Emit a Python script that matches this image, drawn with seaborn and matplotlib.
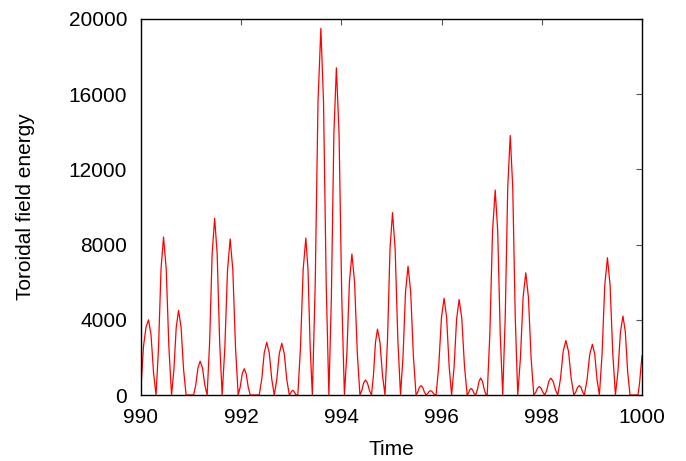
import matplotlib
matplotlib.use("Agg")
import matplotlib.pyplot as plt
import seaborn as sns
import pandas as pd

# Samples (troughs, shoulders and peaks)
time = [
    990.000, 990.050, 990.100, 990.150, 990.200, 990.250, 990.300,
    990.350, 990.400, 990.450, 990.503, 990.557, 990.610,
    990.657, 990.703, 990.750, 990.800, 990.850, 990.900,
    991.050, 991.093, 991.137, 991.180, 991.227, 991.273, 991.320,
    991.370, 991.420, 991.470, 991.520, 991.570, 991.620,
    991.673, 991.727, 991.780, 991.833, 991.887, 991.940,
    991.980, 992.020, 992.060, 992.100, 992.140, 992.180,
    992.360, 992.410, 992.460, 992.510, 992.560, 992.610, 992.660,
    992.710, 992.760, 992.810, 992.860, 992.910, 992.960,
    992.983, 993.007, 993.030, 993.053, 993.077, 993.100,
    993.130, 993.183, 993.237, 993.290, 993.333, 993.377, 993.420,
    993.477, 993.533, 993.590, 993.643, 993.697, 993.750,
    993.800, 993.850, 993.900, 993.953, 994.007, 994.060,
    994.110, 994.160, 994.210, 994.263, 994.317, 994.370,
    994.407, 994.443, 994.480, 994.520, 994.560, 994.600,
    994.640, 994.680, 994.720, 994.770, 994.820, 994.870,
    994.920, 994.970, 995.020, 995.073, 995.127, 995.180,
    995.230, 995.280, 995.330, 995.383, 995.437, 995.490,
    995.523, 995.557, 995.590, 995.623, 995.657, 995.690,
    995.720, 995.750, 995.780, 995.810, 995.840, 995.870,
    995.890, 995.943, 995.997, 996.050, 996.100, 996.150, 996.200,
    996.250, 996.300, 996.350, 996.403, 996.457, 996.510,
    996.537, 996.563, 996.590, 996.617, 996.643, 996.680,
    996.713, 996.747, 996.780, 996.817, 996.853, 996.890,
    996.910, 996.963, 997.017, 997.070, 997.120, 997.170, 997.220,
    997.270, 997.320, 997.370, 997.420, 997.470, 997.520,
    997.573, 997.627, 997.680, 997.733, 997.787, 997.840,
    997.877, 997.913, 997.950, 997.987, 998.023, 998.060,
    998.100, 998.140, 998.180, 998.227, 998.273, 998.320,
    998.373, 998.427, 998.480, 998.533, 998.587, 998.640,
    998.677, 998.713, 998.750, 998.783, 998.817, 998.850,
    998.903, 998.957, 999.010, 999.057, 999.103, 999.150,
    999.203, 999.257, 999.310, 999.363, 999.417, 999.470,
    999.520, 999.570, 999.620, 999.667, 999.713, 999.760,
    999.920, 999.950, 1000.000,
]
energy = [
    440, 2600, 3600, 4000, 3200, 1200, 0,
    2520, 6720, 8400, 6720, 2520, 0,
    1350, 3600, 4500, 3600, 1350, 0,
    0, 540, 1440, 1800, 1440, 540, 0,
    2820, 7520, 9400, 7520, 2820, 0,
    2490, 6640, 8300, 6640, 2490, 0,
    420, 1120, 1400, 1120, 420, 0,
    0, 840, 2240, 2800, 2240, 840, 0,
    825, 2200, 2750, 2200, 825, 0,
    75, 200, 250, 200, 75, 0,
    0, 2505, 6680, 8350, 6680, 2505, 0,
    5850, 15600, 19500, 15600, 5850, 0,
    5220, 13920, 17400, 13920, 5220, 0,
    2250, 6000, 7500, 6000, 2250, 0,
    240, 640, 800, 640, 240, 0,
    1050, 2800, 3500, 2800, 1050, 0,
    2910, 7760, 9700, 7760, 2910, 0,
    2055, 5480, 6850, 5480, 2055, 0,
    150, 400, 500, 400, 150, 0,
    70, 185, 230, 185, 70, 0,
    0, 1545, 4120, 5150, 4120, 1545, 0,
    1524, 4064, 5080, 4064, 1524, 0,
    105, 280, 350, 280, 105, 0,
    270, 720, 900, 720, 270, 0,
    0, 3270, 8720, 10900, 8720, 3270, 0,
    4140, 11040, 13800, 11040, 4140, 0,
    1950, 5200, 6500, 5200, 1950, 0,
    135, 360, 450, 360, 135, 0,
    270, 720, 900, 720, 270, 0,
    870, 2320, 2900, 2320, 870, 0,
    150, 400, 500, 400, 150, 0,
    810, 2160, 2700, 2160, 810, 0,
    2190, 5840, 7300, 5840, 2190, 0,
    1260, 3360, 4200, 3360, 1260, 0,
    0, 600, 2100,
]

xticks = [990, 992, 994, 996, 998, 1000]
yticks = [0, 4000, 8000, 12000, 16000, 20000]

sns.set_theme(style="white")
plt.rcParams["font.family"] = ["Liberation Sans", "DejaVu Sans"]

df = pd.DataFrame({"Time": time, "Energy": energy})

fig = plt.figure(figsize=(6.86, 4.61), dpi=100)
ax = fig.add_axes([141/686, 1 - 395/461, (642-141)/686, (395-19)/461])
sns.lineplot(data=df, x="Time", y="Energy", color="#ff0000", linewidth=0.9,
             sort=False, ax=ax)

ax.set_xlim(990, 1000)
ax.set_ylim(0, 20000)
ax.set_xticks(xticks)
ax.set_xticklabels([str(v) for v in xticks])
ax.set_yticks(yticks)
ax.set_yticklabels([str(v) for v in yticks])
ax.tick_params(axis="both", direction="in", length=4.5, width=0.8, color="#555555",
               top=True, right=True, labelsize=15, labelcolor="black")
ax.tick_params(axis="x", pad=9)
ax.tick_params(axis="y", pad=10)
for s in ax.spines.values():
    s.set_visible(True)
    s.set_color("black")
    s.set_linewidth(1.0)
ax.set_xlabel("Time", fontsize=15, color="black", labelpad=10)
ax.set_ylabel("Toroidal field energy", fontsize=15, color="black", labelpad=24)
ax.grid(False)

fig.savefig("out.png", dpi=100)
